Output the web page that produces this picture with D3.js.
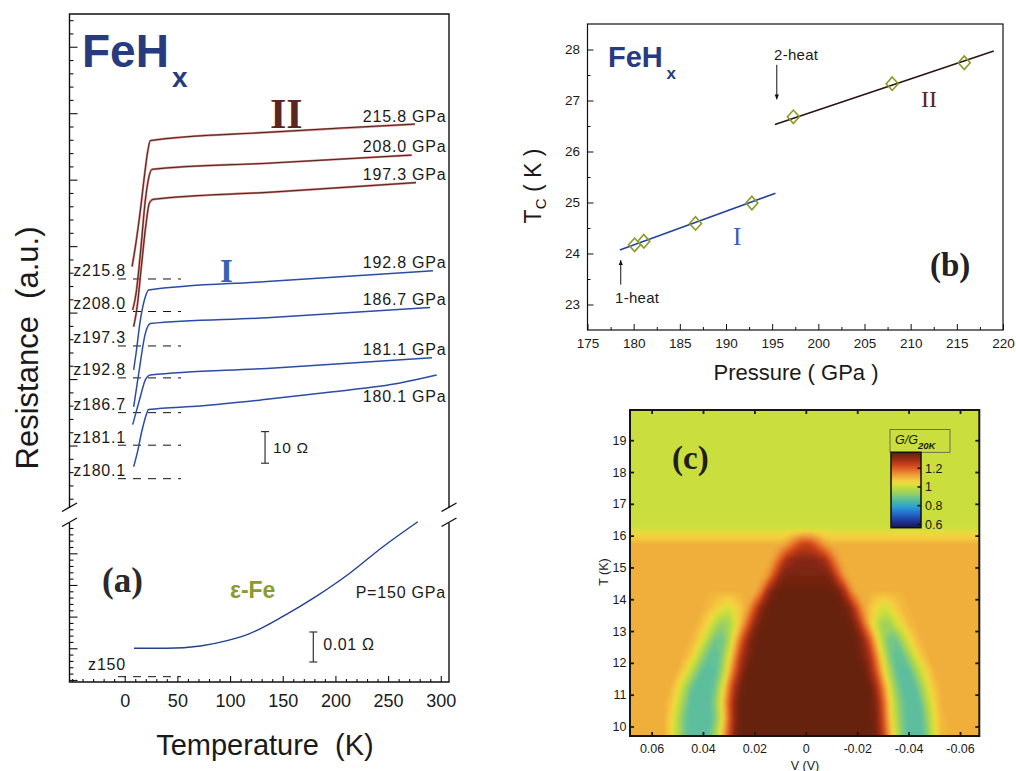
<!DOCTYPE html>
<html>
<head>
<meta charset="utf-8">
<title>FeHx: resistance, Tc and tunnelling conductance</title>
<script src="https://cdn.jsdelivr.net/npm/d3@7"></script>
<style>
  html, body { margin: 0; padding: 0; background: #fff; }
  svg { display: block; }
  text { font-family: "Liberation Sans", Arial, Helvetica, sans-serif; fill: #1a1a1a; }
  .serif { font-family: "Liberation Serif", "Times New Roman", serif; font-weight: bold; }
  .pre { white-space: pre; }
</style>
</head>
<body>
<svg id="fig" width="1016" height="771" viewBox="0 0 1016 771"></svg>
<script>
// ================= DATA =================

// ---- Panel (a): R(T) of FeHx at several pressures, each curve shifted up to its own zero line ----
const curvePressures = ["215.8", "208.0", "197.3", "192.8", "186.7", "181.1", "180.1"];
const curvePhases    = ["II", "II", "II", "I", "I", "I", "I"];
const curveZeroOhm   = [73.9, 63.6, 52.7, 42.6, 31.6, 21.3, 10.7];   // zero line of each curve (Ω)

const temp2158 = [7.0, 10.1, 14.9, 19.0, 21.8, 24.4, 135, 275.5];
const res2158  = [3.9, 10.2, 21.8, 33.4, 40.3, 43.8, 46.4, 49.0];
const temp2080 = [7.6, 10.8, 14.9, 19.6, 22.7, 26.0, 140, 272.4];
const res2080  = [0.5, 5.8, 18.4, 35.3, 42.2, 45.0, 47.0, 49.5];
const temp1973 = [8.5, 11.8, 15.8, 20.3, 23.4, 26.9, 140, 276.5];
const res1973  = [6.1, 12.4, 25.1, 38.8, 45.2, 46.4, 48.7, 51.7];
const temp1928 = [8.5, 10.8, 14.9, 19.6, 22.7, 135, 292.6];
const res1928  = [2.5, 7.8, 18.4, 25.7, 27.8, 30.5, 33.9];
const temp1867 = [8.5, 13.3, 19.6, 24.4, 135, 289.8];
const res1867  = [1.8, 12.4, 25.1, 28.2, 30.0, 33.3];
const temp1811 = [7.6, 10.1, 14.9, 19.6, 24.4, 135, 291.6];
const res1811  = [6.5, 9.6, 15.4, 20.7, 22.2, 24.3, 27.7];
const temp1801 = [8.5, 11.8, 16.5, 20.3, 22.7, 71.8, 135, 198, 261.3, 296.1];
const res1801  = [3.8, 8.0, 15.4, 20.1, 21.9, 23.0, 25.1, 27.5, 30.3, 32.8];

// ε-Fe at 150 GPa (resistance above its own zero line, Ω)
const tempFe = [8.8, 40.3, 71.8, 97.1, 119.1, 150.6, 182.1, 213.6, 245.1, 278.2];
const resFe  = [0.00947, 0.00947, 0.01023, 0.0120, 0.01447, 0.0202, 0.02687, 0.0345, 0.04333, 0.05167];

const scaleBarOhm   = 10;     // Ω, upper block
const scaleBarFeOhm = 0.01;   // Ω, ε-Fe block
const tempTicks = [0, 50, 100, 150, 200, 250, 300];

// ---- Panel (b): Tc versus pressure ----
const tcPressure = [180.1, 181.1, 186.7, 192.8, 197.3, 208.0, 215.8];
const tcKelvin   = [24.17, 24.24, 24.59, 24.99, 26.68, 27.33, 27.74];
const fitIP  = [178.5, 195.35];
const fitIT  = [24.07, 25.18];
const fitIIP = [195.3, 219.0];
const fitIIT = [26.53, 27.97];
const heatNames  = ["1-heat", "2-heat"];
const heatP      = [178.6, 195.5];
const heatTailK  = [23.39, 27.70];
const heatHeadK  = [23.87, 27.02];
const pressureTicks = [175, 180, 185, 190, 195, 200, 205, 210, 215, 220];
const tcTicks = [23, 24, 25, 26, 27, 28];

// ---- Panel (c): normalised conductance G/G20K on a (V, T) grid ----
const vCols = [0.0675, 0.065, 0.0625, 0.06, 0.0575, 0.055, 0.0525, 0.05, 0.0475, 0.045, 0.0425,
  0.04, 0.0375, 0.035, 0.0325, 0.03, 0.0275, 0.025, 0.0225, 0.02, 0.0175, 0.015, 0.0125, 0.01,
  0.0075, 0.005, 0.0025, 0, -0.0025, -0.005, -0.0075, -0.01, -0.0125, -0.015, -0.0175, -0.02,
  -0.0225, -0.025, -0.0275, -0.03, -0.0325, -0.035, -0.0375, -0.04, -0.0425, -0.045, -0.0475,
  -0.05, -0.0525, -0.055, -0.0575, -0.06, -0.0625, -0.065, -0.0675];
const tRows = [19.75, 19.25, 18.75, 18.25, 17.75, 17.25, 16.75, 16.25, 15.75, 15.25, 14.75,
  14.25, 13.75, 13.25, 12.75, 12.25, 11.75, 11.25, 10.75, 10.25, 9.75];
const conductance = [
  // T = 19.75
  [1,1,1,1,1, 1,1,1,1,1, 1,1,1,1,1, 1,1,1,1,1, 1,1,1,1,1, 1,1,1,1,1, 1,1,1,1,1, 1,1,1,1,1, 1,1,1,1,1, 1,1,1,1,1, 1,1,1,1,1],
  // T = 19.25
  [1,1,1,1,1, 1,1,1,1,1, 1,1,1,1,1, 1,1,1,1,1, 1,1,1,1,1, 1,1,1,1,1, 1,1,1,1,1, 1,1,1,1,1, 1,1,1,1,1, 1,1,1,1,1, 1,1,1,1,1],
  // T = 18.75
  [1,1,1,1,1, 1,1,1,1,1, 1,1,1,1,1, 1,1,1,1,1, 1,1,1,1,1, 1,1,1,1,1, 1,1,1,1,1, 1,1,1,1,1, 1,1,1,1,1, 1,1,1,1,1, 1,1,1,1,1],
  // T = 18.25
  [1,1,1,1,1, 1,1,1,1,1, 1,1,1,1,1, 1,1,1,1,1, 1,1,1,1,1, 1,1,1,1,1, 1,1,1,1,1, 1,1,1,1,1, 1,1,1,1,1, 1,1,1,1,1, 1,1,1,1,1],
  // T = 17.75
  [1,1,1,1,1, 1,1,1,1,1, 1,1,1,1,1, 1,1,1,1,1, 1,1,1,1,1, 1,1,1,1,1, 1,1,1,1,1, 1,1,1,1,1, 1,1,1,1,1, 1,1,1,1,1, 1,1,1,1,1],
  // T = 17.25
  [1,1,1,1,1, 1,1,1,1,1, 1,1,1,1,1, 1,1,1,1,1, 1,1,1,1,1, 1,1,1,1,1, 1,1,1,1,1, 1,1,1,1,1, 1,1,1,1,1, 1,1,1,1,1, 1,1,1,1,1],
  // T = 16.75
  [1,1,1,1,1, 1,1,1,1,1, 1,1,1,1,1, 1,1,1,1,1, 1,1,1,1,1, 1,1,1,1,1, 1,1,1,1,1, 1,1,1,1,1, 1,1,1,1,1, 1,1,1,1,1, 1,1,1,1,1],
  // T = 16.25
  [1.01,1.01,1.01,1.01,1.01, 1.01,1.01,1.01,1.01,1.01, 1.01,1.01,1.01,1.01,1.01, 1.01,1.01,1.01,1.01,1.01,
   1.01,1.01,1.01,1.01,1.01, 1.01,1.01,1.01,1.01,1.01, 1.01,1.01,1.01,1.01,1.01, 1.01,1.01,1.01,1.01,1.01,
   1.01,1.01,1.01,1.01,1.01, 1.01,1.01,1.01,1.01,1.01, 1.01,1.01,1.01,1.01,1.01],
  // T = 15.75
  [1.1,1.1,1.1,1.1,1.1, 1.1,1.1,1.1,1.1,1.1, 1.1,1.1,1.1,1.1,1.1, 1.1,1.1,1.1,1.1,1.1, 1.1,1.1,1.1,1.1,
   1.12,1.17,1.22,1.24, 1.22,1.17,1.12,
   1.1,1.1,1.1,1.1,1.1, 1.1,1.1,1.1,1.1,1.1, 1.1,1.1,1.1,1.1,1.1, 1.1,1.1,1.1,1.1,1.1, 1.1,1.1,1.1,1.1],
  // T = 15.25
  [1.1,1.1,1.1,1.1,1.1, 1.1,1.1,1.1,1.1,1.1, 1.1,1.1,1.1,1.1,1.1, 1.1,1.1,1.1,1.1,1.1, 1.1,1.1,
   1.13,1.20,1.28,1.31,1.32,1.32, 1.32,1.31,1.28,1.20,1.13,
   1.1,1.1,1.1,1.1,1.1, 1.1,1.1,1.1,1.1,1.1, 1.1,1.1,1.1,1.1,1.1, 1.1,1.1,1.1,1.1,1.1, 1.1,1.1],
  // T = 14.75
  [1.1,1.1,1.1,1.1,1.1, 1.1,1.1,1.1,1.1,1.1, 1.1,1.1,1.1,1.1,1.1, 1.1,1.1,1.1,1.1,1.1,
   1.10,1.13,1.22,1.31,1.34,1.34,1.34,1.34, 1.34,1.34,1.34,1.31,1.22,1.13,1.10,
   1.1,1.1,1.1,1.1,1.1, 1.1,1.1,1.1,1.1,1.1, 1.1,1.1,1.1,1.1,1.1, 1.1,1.1,1.1,1.1,1.1],
  // T = 14.25
  [1.1,1.1,1.1,1.1,1.1, 1.1,1.1,1.1,1.1,1.1, 1.1,1.1,1.1,1.1,1.1, 1.1,1.1,1.1,
   1.10,1.10,1.16,1.28,1.34,1.36,1.36,1.36,1.36,1.36, 1.36,1.36,1.36,1.36,1.34,1.28,1.16,1.10,1.10,
   1.1,1.1,1.1,1.1,1.1, 1.1,1.1,1.1,1.1,1.1, 1.1,1.1,1.1,1.1,1.1, 1.1,1.1,1.1],
  // T = 13.75
  [1.1,1.1,1.1,1.1,1.1, 1.1,1.1,1.1,1.1,1.1, 1.1,
   1.10,1.09,1.07,1.05,1.02,1.06,1.08,1.12,1.21,1.31,1.35,
   1.37,1.37,1.37,1.37,1.37,1.37, 1.37,1.37,1.37,1.37,1.37,
   1.35,1.31,1.21,1.12,1.08,1.05,1.02,1.04,1.07,1.09,1.10,
   1.1,1.1,1.1,1.1,1.1, 1.1,1.1,1.1,1.1,1.1, 1.1],
  // T = 13.25
  [1.1,1.1,1.1,1.1,1.1, 1.1,1.1,1.1,1.1,1.1,
   1.10,1.08,1.04,0.98,0.93,0.95,1.02,1.10,1.20,1.30,1.35,
   1.37,1.37,1.37,1.37,1.37,1.37,1.37, 1.37,1.37,1.37,1.37,1.37,1.37,
   1.35,1.30,1.19,1.08,1.00,0.94,0.95,1.01,1.06,1.09,1.10,
   1.1,1.1,1.1,1.1,1.1, 1.1,1.1,1.1,1.1,1.1],
  // T = 12.75
  [1.1,1.1,1.1,1.1,1.1, 1.1,1.1,1.1,1.1,
   1.10,1.08,1.03,0.95,0.89,0.89,0.96,1.08,1.20,1.30,1.35,
   1.37,1.37,1.37,1.37,1.37,1.37,1.37,1.37, 1.37,1.37,1.37,1.37,1.37,1.37,1.37,
   1.35,1.30,1.20,1.07,0.96,0.89,0.89,0.96,1.04,1.08,1.10,
   1.1,1.1,1.1,1.1,1.1, 1.1,1.1,1.1,1.1],
  // T = 12.25
  [1.1,1.1,1.1,1.1,1.1, 1.1,1.1,1.1,
   1.10,1.08,1.02,0.93,0.88,0.87,0.91,1.02,1.15,1.27,1.33,1.36,
   1.37,1.37,1.37,1.37,1.37,1.37,1.37,1.37, 1.37,1.37,1.37,1.37,1.37,1.37,1.37,
   1.36,1.33,1.27,1.15,1.02,0.91,0.87,0.88,0.94,1.03,1.08,1.10,
   1.1,1.1,1.1,1.1,1.1, 1.1,1.1,1.1],
  // T = 11.75
  [1.1,1.1,1.1,1.1,1.1, 1.1,1.1,
   1.10,1.07,1.00,0.92,0.87,0.86,0.87,0.94,1.08,1.21,1.31,1.36,
   1.37,1.37,1.37,1.37,1.37,1.37,1.37,1.37,1.37, 1.37,1.37,1.37,1.37,1.37,1.37,1.37,1.37,
   1.36,1.31,1.21,1.08,0.96,0.88,0.86,0.87,0.93,1.01,1.07,1.10,
   1.1,1.1,1.1,1.1,1.1, 1.1,1.1],
  // T = 11.25
  [1.1,1.1,1.1,1.1,1.1, 1.1,
   1.10,1.06,0.98,0.90,0.86,0.86,0.86,0.90,1.02,1.16,1.28,1.35,
   1.37,1.37,1.37,1.37,1.37,1.37,1.37,1.37,1.37,1.37, 1.37,1.37,1.37,1.37,1.37,1.37,1.37,1.37,1.37,
   1.35,1.28,1.16,1.03,0.92,0.87,0.86,0.87,0.94,1.03,1.08,1.10,
   1.1,1.1,1.1,1.1,1.1, 1.1],
  // T = 10.75
  [1.1,1.1,1.1,1.1,1.1,
   1.10,1.08,1.02,0.93,0.87,0.86,0.86,0.87,0.93,1.06,1.20,1.32,1.36,
   1.37,1.37,1.37,1.37,1.37,1.37,1.37,1.37,1.37,1.37, 1.37,1.37,1.37,1.37,1.37,1.37,1.37,1.37,1.37,
   1.36,1.32,1.21,1.07,0.96,0.89,0.86,0.86,0.89,0.98,1.06,1.10,1.10,
   1.1,1.1,1.1,1.1,1.1],
  // T = 10.25
  [1.1,1.1,1.1,1.1,1.1,
   1.10,1.06,0.98,0.90,0.86,0.86,0.86,0.86,0.91,1.04,1.19,1.32,1.36,
   1.37,1.37,1.37,1.37,1.37,1.37,1.37,1.37,1.37,1.37, 1.37,1.37,1.37,1.37,1.37,1.37,1.37,1.37,1.37,
   1.36,1.33,1.23,1.09,0.98,0.90,0.86,0.86,0.87,0.94,1.04,1.09,1.10,
   1.1,1.1,1.1,1.1,1.1],
  // T = 9.75
  [1.1,1.1,1.1,1.1,1.1,
   1.10,1.06,0.98,0.90,0.86,0.86,0.86,0.88,0.96,1.08,1.21,1.33,1.36,
   1.37,1.37,1.37,1.37,1.37,1.37,1.37,1.37,1.37,1.37, 1.37,1.37,1.37,1.37,1.37,1.37,1.37,1.37,1.37,
   1.36,1.34,1.25,1.12,1.01,0.91,0.86,0.86,0.86,0.92,1.03,1.09,1.10,
   1.1,1.1,1.1,1.1,1.1]
];
const vTicks = [0.06, 0.04, 0.02, 0, -0.02, -0.04, -0.06];
const vTickLabels = ["0.06", "0.04", "0.02", "0", "-0.02", "-0.04", "-0.06"];
const tTicksC = [10, 11, 12, 13, 14, 15, 16, 17, 18, 19];
const cbarTicks = [1.2, 1, 0.8, 0.6];
const cbarTickLabels = ["1.2", "1", "0.8", "0.6"];
const cbarRange = [0.5636, 1.371];

// colour map of the conductance plot (value stops -> colours)
const cmapV = [0.56, 0.62, 0.70, 0.78, 0.84, 0.88, 0.93, 0.98, 1.00, 1.04, 1.07, 1.10, 1.13, 1.18, 1.24, 1.30, 1.37];
const cmapC = ["#1a1450", "#1c2f8c", "#2460c4", "#2b9bd8", "#48b6a8", "#66c394", "#98cf66", "#bada46",
               "#c6df3c", "#e9dc3c", "#f6cb3f", "#f1b23c", "#ec9b37", "#e66d29", "#c9401a", "#962c13", "#622010"];

// ================= DRAWING =================
const svg = d3.select("#fig");
const defs = svg.append("defs");
const NAVY = "#263b80", BLUE = "#2b4ca6", BROWN = "#5b2622", OLIVE = "#8c9b2f";

// ---------- Panel (a) ----------
const A = {left: 69.5, right: 449, top: 14, bottom: 682, breakTop: 508, breakBot: 523};
const xA = d3.scaleLinear().domain([-52.4, 307.8]).range([A.left, A.right]);
const yAu = d3.scaleLinear().domain([0, 7.5]).range([512.5, A.top]);          // tick scale, upper block
const yOhm = d3.scaleLinear().domain([0, 157.75]).range([512.5, A.top]);      // resistance, upper block
const yAuLow = d3.scaleLinear().domain([-0.05, 5.1]).range([A.bottom, 519]);  // tick scale, lower block
const yOhmLow = d3.scaleLinear().domain([-0.00177, 0.05257]).range([A.bottom, 519]); // resistance, ε-Fe

const ga = svg.append("g");

// frame, broken between the two blocks
const fr = ga.append("g").attr("fill", "none").attr("stroke", "#111").attr("stroke-width", 1.4);
fr.append("path").attr("d", `M${A.left},${A.breakTop}V${A.top}H${A.right}V${A.breakTop}`);
fr.append("path").attr("d", `M${A.left},${A.breakBot}V${A.bottom}H${A.right}V${A.breakBot}`);
[A.left, A.right].forEach(x => [A.breakTop - 1, A.breakBot - 1].forEach(y => {
  fr.append("line").attr("x1", x - 7.5).attr("y1", y + 4.5).attr("x2", x + 7.5).attr("y2", y - 4);
}));

// left-axis ticks (unlabelled, arbitrary units)
const tickG = ga.append("g").attr("stroke", "#111").attr("stroke-width", 1.1);
for (let i = 1; i <= 37; i++) {
  const y = yAu(i / 5);
  if (y > A.breakTop - 2) continue;
  tickG.append("line").attr("x1", A.left).attr("x2", A.left + (i % 5 === 0 ? 8 : 4)).attr("y1", y).attr("y2", y);
}
for (let i = 0; i <= 25; i++) {
  const y = yAuLow(i / 5);
  if (y < A.breakBot + 1) continue;
  tickG.append("line").attr("x1", A.left).attr("x2", A.left + (i % 5 === 0 ? 8 : 4)).attr("y1", y).attr("y2", y);
}

// temperature axis
const tempMinor = d3.range(-50, 301, 10).filter(d => d % 50 !== 0 || d < 0);
const axA = ga.append("g").attr("transform", `translate(0,${A.bottom})`)
  .call(d3.axisBottom(xA).tickValues(tempTicks).tickSize(-6).tickPadding(12).tickFormat(d3.format("d")));
ga.append("g").attr("transform", `translate(0,${A.bottom})`)
  .call(d3.axisBottom(xA).tickValues(tempMinor).tickSize(-3).tickFormat(""))
  .call(g => g.select(".domain").remove());
axA.select(".domain").remove();
axA.selectAll("text").style("font-size", "18px");
ga.selectAll(".tick line").attr("stroke", "#111").attr("stroke-width", 1.1);

// dashed zero lines with their labels
const dashG = ga.append("g").attr("stroke", "#111").attr("stroke-width", 1).attr("stroke-dasharray", "8,7");
const curveTemps = [temp2158, temp2080, temp1973, temp1928, temp1867, temp1811, temp1801];
const curveRes   = [res2158, res2080, res1973, res1928, res1867, res1811, res1801];
curvePressures.forEach((p, i) => {
  const y0 = yOhm(curveZeroOhm[i]);
  dashG.append("line").attr("x1", 118).attr("x2", 181).attr("y1", y0).attr("y2", y0);
  ga.append("text").attr("x", 126).attr("y", y0 - 2.5).attr("text-anchor", "end")
    .attr("letter-spacing", 0.8).style("font-size", "16px").text("z" + p);
});

// R(T) curves
const endLabelDy = [-2.6, -3.3, -2.7, -2.7, -2.3, -2.7, 26.7];
curvePressures.forEach((p, i) => {
  const pts = curveTemps[i].map((t, k) => [t, curveRes[i][k]]);
  const z = curveZeroOhm[i];
  const line = d3.line().x(d => xA(d[0])).y(d => yOhm(z + d[1])).curve(d3.curveMonotoneX);
  if (curvePhases[i] === "II") {
    ga.append("path").attr("d", line(pts)).attr("fill", "none").attr("stroke", "#c85a52").attr("stroke-width", 2.2).attr("stroke-opacity", 0.8);
    ga.append("path").attr("d", line(pts)).attr("fill", "none").attr("stroke", "#3c1a18").attr("stroke-width", 0.9);
  } else {
    ga.append("path").attr("d", line(pts)).attr("fill", "none").attr("stroke", BLUE).attr("stroke-width", 1.5);
  }
  const last = pts[pts.length - 1];
  ga.append("text").attr("x", 446.5).attr("y", yOhm(z + last[1]) + endLabelDy[i]).attr("text-anchor", "end")
    .attr("letter-spacing", 0.8).style("font-size", "16px").text(p + " GPa");
});

// ε-Fe curve
const fePts = tempFe.map((t, k) => [t, resFe[k]]);
ga.append("path").attr("d", d3.line().x(d => xA(d[0])).y(d => yOhmLow(d[1])).curve(d3.curveMonotoneX)(fePts))
  .attr("fill", "none").attr("stroke", "#23408f").attr("stroke-width", 1.4);
dashG.append("line").attr("x1", 118).attr("x2", 181).attr("y1", yOhmLow(0)).attr("y2", yOhmLow(0));
ga.append("text").attr("x", 126).attr("y", yOhmLow(0) - 6.7).attr("text-anchor", "end")
  .attr("letter-spacing", 0.8).style("font-size", "16px").text("z150");

// scale bars
function scaleBar(g, x, yLo, yHi) {
  const s = g.append("g").attr("stroke", "#333").attr("stroke-width", 1.2);
  s.append("line").attr("x1", x).attr("x2", x).attr("y1", yLo).attr("y2", yHi);
  s.append("line").attr("x1", x - 4).attr("x2", x + 4).attr("y1", yLo).attr("y2", yLo);
  s.append("line").attr("x1", x - 4).attr("x2", x + 4).attr("y1", yHi).attr("y2", yHi);
}
const barBase = 15.6, barT = 133.2;
scaleBar(ga, xA(barT), yOhm(barBase), yOhm(barBase + scaleBarOhm));
ga.append("text").attr("x", xA(barT) + 8).attr("y", (yOhm(barBase) + yOhm(barBase + scaleBarOhm)) / 2 + 5.5)
  .attr("letter-spacing", 0.6).style("font-size", "15.5px").attr("class", "pre").text("10 Ω");
const feBarBase = 0.0049, feBarT = 179;
scaleBar(ga, xA(feBarT), yOhmLow(feBarBase), yOhmLow(feBarBase + scaleBarFeOhm));
ga.append("text").attr("x", xA(feBarT) + 10).attr("y", (yOhmLow(feBarBase) + yOhmLow(feBarBase + scaleBarFeOhm)) / 2 + 3)
  .attr("letter-spacing", 0.6).style("font-size", "16px").attr("class", "pre").text("0.01 Ω");

// annotations
ga.append("text").attr("x", 82).attr("y", 67).style("font-size", "46px").style("font-weight", "bold").style("fill", NAVY).text("FeH");
ga.append("text").attr("x", 172).attr("y", 87).style("font-size", "28px").style("font-weight", "bold").style("fill", NAVY).text("x");
ga.append("text").attr("class", "serif").attr("x", 270).attr("y", 128).style("font-size", "42px").style("fill", BROWN).text("II");
ga.append("text").attr("class", "serif").attr("x", 220).attr("y", 281.5).style("font-size", "33px").style("fill", "#3462b4").text("I");
ga.append("text").attr("class", "serif").attr("x", 102).attr("y", 592).style("font-size", "35px").style("fill", "#2a2a2a").text("(a)");
ga.append("text").attr("x", 230).attr("y", 598).style("font-size", "23px").style("font-weight", "bold").style("fill", OLIVE).text("ε-Fe");
ga.append("text").attr("x", 446).attr("y", 598).attr("text-anchor", "end").attr("letter-spacing", 0.8)
  .style("font-size", "16px").text("P=150 GPa");
ga.append("text").attr("class", "pre").attr("transform", "translate(38,348) rotate(-90)").attr("text-anchor", "middle")
  .style("font-size", "31px").text("Resistance  (a.u.)");
ga.append("text").attr("class", "pre").attr("x", 265).attr("y", 755).attr("text-anchor", "middle")
  .style("font-size", "29px").text("Temperature  (K)");

// ---------- Panel (b) ----------
const B = {left: 587.5, right: 1003, top: 24, bottom: 330};
const xB = d3.scaleLinear().domain([175, 220]).range([B.left, B.right]);
const yB = d3.scaleLinear().domain([22.5, 28.5]).range([B.bottom, B.top]);
const gb = svg.append("g");

defs.append("marker").attr("id", "arrowHead").attr("viewBox", "0 0 8 8").attr("refX", 8).attr("refY", 4)
  .attr("markerWidth", 5).attr("markerHeight", 6).attr("markerUnits", "userSpaceOnUse").attr("orient", "auto")
  .append("path").attr("d", "M0,0.5L8,4L0,7.5Z").attr("fill", "#111");

const pMinor = d3.range(177.5, 220, 5);
const tcMinor = d3.range(23.5, 28.5, 1);
const axBx = gb.append("g").attr("transform", `translate(0,${B.bottom})`)
  .call(d3.axisBottom(xB).tickValues(pressureTicks).tickSize(-6).tickPadding(8.7).tickFormat(d3.format("d")));
gb.append("g").attr("transform", `translate(0,${B.bottom})`)
  .call(d3.axisBottom(xB).tickValues(pMinor).tickSize(-3).tickFormat(""))
  .call(g => g.select(".domain").remove());
const axBy = gb.append("g").attr("transform", `translate(${B.left},0)`)
  .call(d3.axisLeft(yB).tickValues(tcTicks).tickSize(-6).tickPadding(7.4).tickFormat(d3.format("d")));
gb.append("g").attr("transform", `translate(${B.left},0)`)
  .call(d3.axisLeft(yB).tickValues(tcMinor).tickSize(-3).tickFormat(""))
  .call(g => g.select(".domain").remove());
[axBx, axBy].forEach(a => { a.select(".domain").remove(); a.selectAll("text").style("font-size", "13.5px"); });
gb.selectAll(".tick line").attr("stroke", "#111").attr("stroke-width", 1);
gb.append("rect").attr("x", B.left).attr("y", B.top).attr("width", B.right - B.left).attr("height", B.bottom - B.top)
  .attr("fill", "none").attr("stroke", "#111").attr("stroke-width", 1.2);

// linear fits
const fitLine = d3.line().x(d => xB(d[0])).y(d => yB(d[1]));
gb.append("path").attr("d", fitLine(fitIP.map((p, k) => [p, fitIT[k]]))).attr("stroke", "#2443a0").attr("stroke-width", 1.6).attr("fill", "none");
gb.append("path").attr("d", fitLine(fitIIP.map((p, k) => [p, fitIIT[k]]))).attr("stroke", "#2a1414").attr("stroke-width", 1.6).attr("fill", "none");

// data points: open diamonds
gb.selectAll(".pt").data(tcPressure.map((p, k) => [p, tcKelvin[k]])).join("path")
  .attr("class", "pt")
  .attr("d", d3.symbol().type(d3.symbolSquare).size(72))
  .attr("transform", d => `translate(${xB(d[0])},${yB(d[1])}) scale(1,1.12) rotate(45)`)
  .attr("fill", "none").attr("stroke", "#8a9a25").attr("stroke-width", 1.5);

// heating arrows
heatNames.forEach((name, k) => {
  gb.append("line").attr("x1", xB(heatP[k])).attr("x2", xB(heatP[k]))
    .attr("y1", yB(heatTailK[k])).attr("y2", yB(heatHeadK[k]))
    .attr("stroke", "#111").attr("stroke-width", 1).attr("marker-end", "url(#arrowHead)");
});
gb.append("text").attr("x", 615).attr("y", 303.3).attr("letter-spacing", 0.3).style("font-size", "15px").text(heatNames[0]);
gb.append("text").attr("x", 774).attr("y", 60).attr("letter-spacing", 0.3).style("font-size", "15px").text(heatNames[1]);

gb.append("text").attr("x", 608).attr("y", 67.3).style("font-size", "29px").style("font-weight", "bold").style("fill", NAVY).text("FeH");
gb.append("text").attr("x", 666.5).attr("y", 78.5).style("font-size", "17px").style("font-weight", "bold").style("fill", NAVY).text("x");
gb.append("text").attr("class", "serif").attr("x", 733).attr("y", 245).style("font-size", "25px").style("font-weight", "normal").style("fill", "#3a5cb2").text("I");
gb.append("text").attr("class", "serif").attr("x", 921).attr("y", 106.5).style("font-size", "24px").style("font-weight", "normal").style("fill", BROWN).text("II");
gb.append("text").attr("class", "serif").attr("x", 930).attr("y", 276).style("font-size", "33px").style("fill", "#222").text("(b)");
gb.append("text").attr("class", "pre").attr("x", 796).attr("y", 380).attr("text-anchor", "middle")
  .style("font-size", "22px").text("Pressure ( GPa )");
const tcLab = gb.append("text").attr("class", "pre").attr("transform", "translate(541,186) rotate(-90)")
  .attr("text-anchor", "middle").style("font-size", "23px");
tcLab.append("tspan").text("T");
tcLab.append("tspan").attr("dy", 5).style("font-size", "15px").text("C");
tcLab.append("tspan").attr("dy", -5).text(" ( K )");

// ---------- Panel (c) ----------
const C = {left: 630, right: 979.3, top: 410, bottom: 736};
const xC = d3.scaleLinear().domain([0.0684, -0.0675]).range([C.left, C.right]);
const yC = d3.scaleLinear().domain([9.7, 19.95]).range([C.bottom, C.top]);
const color = d3.scaleLinear().domain(cmapV).range(cmapC).interpolate(d3.interpolateRgb).clamp(true);
const gc = svg.append("g");

defs.append("clipPath").attr("id", "clipC").append("rect")
  .attr("x", C.left).attr("y", C.top).attr("width", C.right - C.left).attr("height", C.bottom - C.top);
const inset = 4;
defs.append("clipPath").attr("id", "clipCin").append("rect")
  .attr("x", C.left + inset).attr("y", C.top + inset)
  .attr("width", C.right - C.left - 2 * inset).attr("height", C.bottom - C.top - 2 * inset);
defs.append("filter").attr("id", "soften").attr("x", "-5%").attr("y", "-5%").attr("width", "110%").attr("height", "110%")
  .append("feGaussianBlur").attr("stdDeviation", 1.6);

// filled contours of the conductance grid
const nx = vCols.length, ny = tRows.length;
const flat = conductance.flat();
const gxToV = d3.scaleLinear().domain([0.5, nx - 0.5]).range([vCols[0], vCols[nx - 1]]);
const gyToT = d3.scaleLinear().domain([0.5, ny - 0.5]).range([tRows[0], tRows[ny - 1]]);
const proj = d3.geoTransform({ point(x, y) { this.stream.point(xC(gxToV(x)), yC(gyToT(y))); } });
const geo = d3.geoPath(proj);
const levels = d3.range(80, 137, 1).map(d => d / 100);
const bands = d3.contours().size([nx, ny]).thresholds(levels)(flat);

function drawHeat(parent) {
  parent.append("rect").attr("x", C.left - 20).attr("y", C.top - 20)
    .attr("width", C.right - C.left + 40).attr("height", C.bottom - C.top + 40).attr("fill", color(1.0));
  parent.selectAll("path").data(bands).join("path")
    .attr("d", geo).attr("fill", d => color(d.value + 0.005)).attr("stroke", "none");
}
// crisp layer for the border strip, softened layer for the interior
drawHeat(gc.append("g").attr("clip-path", "url(#clipC)"));
drawHeat(gc.append("g").attr("clip-path", "url(#clipCin)").append("g").attr("filter", "url(#soften)"));

// axes
const axCx = gc.append("g").attr("transform", `translate(0,${C.bottom})`)
  .call(d3.axisBottom(xC).tickValues(vTicks).tickFormat((d, i) => vTickLabels[i]).tickSize(-4).tickPadding(7.8));
const axCy = gc.append("g").attr("transform", `translate(${C.left},0)`)
  .call(d3.axisLeft(yC).tickValues(tTicksC).tickSize(-4).tickPadding(3.5));
gc.append("g").attr("transform", `translate(0,${C.top})`)
  .call(d3.axisTop(xC).tickValues(vTicks).tickSize(-4).tickFormat(""));
gc.append("g").attr("transform", `translate(${C.right},0)`)
  .call(d3.axisRight(yC).tickValues(tTicksC).tickSize(-4).tickFormat(""));
gc.selectAll(".domain").remove();
[axCx, axCy].forEach(a => a.selectAll("text").style("font-size", "12.5px"));
gc.selectAll(".tick line").attr("stroke", "#1a1a1a").attr("stroke-width", 1.8);
gc.append("rect").attr("x", C.left).attr("y", C.top).attr("width", C.right - C.left).attr("height", C.bottom - C.top)
  .attr("fill", "none").attr("stroke", "#151515").attr("stroke-width", 2);

gc.append("text").attr("class", "pre").attr("x", 805).attr("y", 769.5).attr("text-anchor", "middle")
  .style("font-size", "12.5px").text("V (V)");
gc.append("text").attr("class", "pre").attr("transform", "translate(608,572) rotate(-90)").attr("text-anchor", "middle")
  .style("font-size", "12.5px").text("T (K)");
gc.append("text").attr("class", "serif").attr("x", 672).attr("y", 469).style("font-size", "33px").style("fill", "#1e1e1e").text("(c)");

// colour bar
const CB = {x: 891, w: 30, top: 452.3, bottom: 527.7};
const cbY = d3.scaleLinear().domain(cbarRange).range([CB.bottom, CB.top]);
const grad = defs.append("linearGradient").attr("id", "cbarGrad").attr("x1", 0).attr("x2", 0).attr("y1", 1).attr("y2", 0);
d3.range(0, 41).forEach(k => {
  const v = cbarRange[0] + (cbarRange[1] - cbarRange[0]) * k / 40;
  grad.append("stop").attr("offset", (k / 40 * 100) + "%").attr("stop-color", color(v));
});
gc.append("rect").attr("x", 890).attr("y", 429.5).attr("width", 60).attr("height", CB.top - 429.5)
  .attr("fill", "none").attr("stroke", "#555").attr("stroke-width", 0.8);
gc.append("rect").attr("x", CB.x).attr("y", CB.top).attr("width", CB.w).attr("height", CB.bottom - CB.top)
  .attr("fill", "url(#cbarGrad)").attr("stroke", "#111").attr("stroke-width", 1.5);
cbarTicks.forEach((v, i) => {
  gc.append("line").attr("x1", CB.x + CB.w - 3.5).attr("x2", CB.x + CB.w).attr("y1", cbY(v)).attr("y2", cbY(v))
    .attr("stroke", "#111").attr("stroke-width", 1.6);
  gc.append("text").attr("x", CB.x + CB.w + 4).attr("y", cbY(v)).attr("dy", "0.36em")
    .style("font-size", "12.5px").text(cbarTickLabels[i]);
});
const cbTitle = gc.append("text").attr("x", 895).attr("y", 444).style("font-size", "12.5px").style("font-style", "italic");
cbTitle.append("tspan").text("G/G");
cbTitle.append("tspan").attr("dy", 5).style("font-size", "9.5px").style("font-weight", "bold").text("20K");
</script>
</body>
</html>
